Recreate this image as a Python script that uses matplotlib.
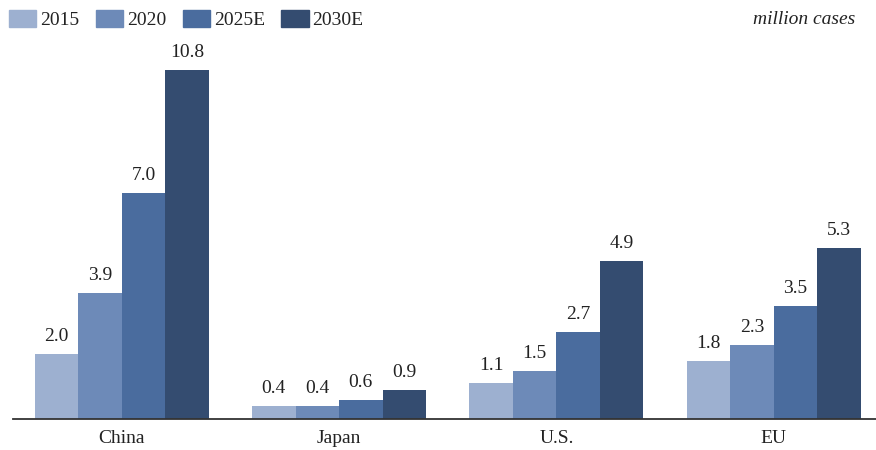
import numpy as np
import matplotlib.pyplot as plt
from matplotlib.patches import Patch

plt.rcParams['font.family'] = ['Liberation Serif', 'DejaVu Serif']

regions = ['China', 'Japan', 'U.S.', 'EU']
years = ['2015', '2020', '2025E', '2030E']
v2015 = [2.0, 0.4, 1.1, 1.8]
v2020 = [3.9, 0.4, 1.5, 2.3]
v2025 = [7.0, 0.6, 2.7, 3.5]
v2030 = [10.8, 0.9, 4.9, 5.3]
series = [v2015, v2020, v2025, v2030]
colors = ['#9db0d0', '#6d8ab8', '#4a6c9e', '#344c70']
fs = 14

fig = plt.figure(figsize=(8.76, 4.5), dpi=100)
ax = fig.add_axes([13/876, 31/450, 1 - 13/876, (419 - 40)/450])

x = np.arange(len(regions))
w = 0.2
for i, vals in enumerate(series):
    pos = x + (i - 1.5) * w
    ax.bar(pos, vals, width=w, color=colors[i], label=years[i])
    for px, v in zip(pos, vals):
        ax.annotate(f'{v:.1f}', (px, v), xytext=(0, 6.5), textcoords='offset points',
                    ha='center', va='bottom', fontsize=fs, color='#222222')

ax.set_xlim(-0.5, 3.47)
ax.set_ylim(0, (419 - 40) / 32.3)
ax.set_xticks(x)
ax.set_xticklabels(regions, fontsize=fs, color='#222222')
ax.tick_params(axis='x', length=0, pad=8)
ax.set_yticks([])
for s in ['top', 'right', 'left']:
    ax.spines[s].set_visible(False)
ax.spines['bottom'].set_color('#333333')
ax.spines['bottom'].set_linewidth(1.3)

handles = [Patch(color=c) for c in colors]
fig.legend(handles, years, loc='upper left', bbox_to_anchor=(9/876, 1 - 10/450),
           ncol=4, frameon=False, fontsize=fs, borderpad=0, borderaxespad=0,
           handlelength=1.4, handleheight=0.95, handletextpad=0.2,
           columnspacing=0.85, labelcolor='#222222')

fig.text(855/876, 1 - 19/450, 'million cases', ha='right', va='center',
         fontsize=fs, style='italic', color='#222222')

fig.savefig('out.png', dpi=100)
